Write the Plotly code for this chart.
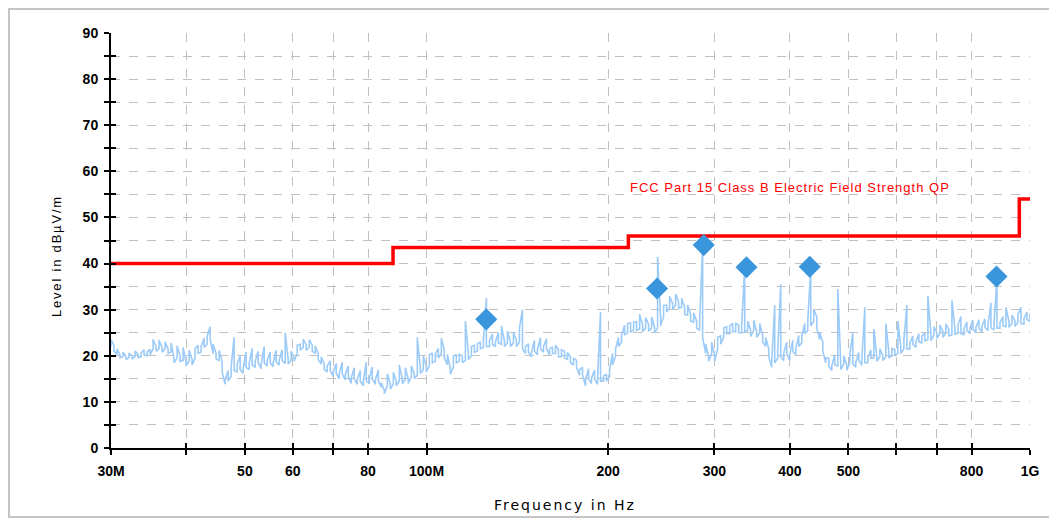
import numpy as np
import plotly.graph_objects as go

# ---------------- data ----------------
# receiver sweep: start / stop (log sweep, one display bin per trace value)
sweep_start_hz = 30e6
sweep_stop_hz = 1e9
trace_peak = [
    23.5, 22.3, 21.5, 20.2, 20.8, 19.8, 20.6, 20.0, 21.0, 20.3,
    20.6, 21.3, 20.8, 21.4, 23.6, 22.0, 23.4, 21.8, 23.0, 21.5,
    22.8, 19.3, 22.2, 20.0, 21.8, 18.6, 21.2, 19.2, 21.5, 22.3,
    22.0, 23.8, 24.2, 26.3, 22.5, 20.5, 21.2, 18.8, 14.8, 16.8,
    17.6, 24.0, 18.2, 20.0, 17.3, 20.8, 18.3, 21.6, 18.8, 21.0,
    18.2, 22.0, 19.0, 20.8, 18.5, 21.2, 19.0, 21.3, 25.0, 19.2,
    21.0, 19.5, 22.3, 22.5, 23.6, 22.4, 23.5, 22.3, 22.1, 20.5,
    19.8, 18.2, 17.8, 18.9, 16.5, 18.3, 16.2, 18.6, 15.9, 17.8,
    15.2, 17.4, 14.9, 16.8, 14.5, 18.6, 15.2, 17.6, 14.7, 16.9,
    14.2, 12.5, 16.1, 13.9, 16.4, 14.5, 18.0, 15.1, 17.4, 14.9,
    17.8, 16.0, 24.0, 17.4, 19.9, 17.8, 20.2, 20.6, 20.4, 21.6,
    23.8, 21.2, 20.3, 17.3, 19.9, 20.3, 20.4, 19.9, 27.5, 20.4,
    22.0, 22.3, 22.6, 23.0, 23.3, 32.5, 23.2, 24.7, 23.0, 25.0,
    26.5, 23.3, 25.3, 23.0, 25.1, 23.3, 26.0, 30.0, 22.0, 22.6,
    20.8, 23.3, 21.5, 23.9, 22.0, 23.7, 21.5, 21.9, 22.3, 21.3,
    21.3, 21.0, 20.7, 19.7, 19.5, 19.0, 17.0, 17.5, 14.6, 17.2,
    15.2, 16.9, 14.9, 29.5, 15.6, 16.0, 17.0, 20.5, 21.5, 24.0,
    24.5, 26.6, 27.0, 27.1, 27.3, 27.4, 29.0, 26.6, 28.3, 26.8,
    28.4, 26.2, 41.5, 28.2, 30.9, 31.0, 32.9, 31.3, 33.4, 31.7,
    32.5, 30.5, 31.0, 29.0, 29.3, 27.5, 27.5, 44.0, 22.5, 19.8,
    23.0, 20.0, 24.0, 24.3, 26.0, 26.3, 26.5, 27.0, 27.0, 26.7,
    26.8, 39.0, 27.5, 25.5, 27.7, 25.3, 27.0, 24.5, 24.0, 21.5,
    18.6, 31.0, 21.0, 35.5, 20.6, 23.0, 20.2, 23.4, 21.6, 24.4,
    24.3, 27.0, 27.5, 39.0, 30.0, 28.5, 25.0, 23.0, 19.6, 19.5,
    17.8, 20.2, 34.5, 18.1, 20.0, 17.9, 20.3, 25.0, 18.6, 20.7,
    19.1, 30.5, 19.6, 21.3, 25.8, 19.8, 21.5, 20.1, 27.0, 20.8,
    21.6, 21.3, 27.5, 21.8, 23.3, 31.0, 22.8, 24.3, 23.1, 24.8,
    24.3, 24.9, 33.0, 24.7, 26.3, 25.0, 26.7, 25.3, 26.9, 25.6,
    32.0, 26.0, 26.6, 28.5, 25.8, 27.3, 26.0, 27.7, 26.2, 27.8,
    26.4, 28.0, 26.6, 31.5, 26.9, 36.5, 27.2, 28.5, 30.5, 27.4,
    28.8, 27.6, 29.1, 30.5, 28.1, 29.5, 29.3,
]
trace_floor = [
    22.0, 21.0, 20.3, 19.6, 19.8, 19.2, 19.6, 19.3, 19.8, 19.6,
    19.8, 20.2, 20.0, 20.2, 21.5, 21.0, 21.5, 20.8, 21.5, 20.5,
    20.8, 18.5, 19.5, 18.8, 19.0, 17.8, 18.8, 18.0, 19.5, 20.5,
    20.8, 21.8, 22.5, 23.5, 20.5, 19.3, 19.0, 16.5, 13.8, 14.5,
    15.5, 16.8, 16.5, 17.0, 16.2, 17.5, 17.0, 18.0, 17.5, 18.5,
    17.2, 18.5, 17.8, 18.5, 17.6, 18.6, 18.0, 19.0, 18.3, 18.2,
    19.0, 18.8, 20.5, 21.2, 21.8, 21.2, 21.8, 21.0, 20.5, 19.2,
    18.2, 17.0, 16.5, 16.8, 15.5, 16.2, 15.0, 16.0, 14.8, 15.5,
    14.0, 15.0, 13.8, 14.5, 13.5, 14.5, 14.0, 15.0, 13.8, 14.5,
    13.2, 11.8, 13.5, 12.8, 13.8, 13.5, 14.5, 14.0, 14.8, 14.0,
    15.5, 15.0, 15.8, 16.2, 17.0, 16.5, 17.8, 18.5, 18.8, 19.5,
    20.5, 19.5, 18.0, 16.0, 17.5, 18.5, 18.8, 18.5, 19.0, 19.2,
    20.0, 20.8, 21.0, 21.5, 21.8, 22.0, 22.0, 22.5, 22.0, 22.8,
    22.5, 22.0, 22.8, 22.0, 22.8, 22.0, 23.0, 21.5, 20.5, 20.8,
    19.8, 21.0, 20.2, 21.5, 20.8, 21.5, 20.2, 20.5, 20.5, 19.8,
    19.8, 19.5, 19.2, 18.5, 18.0, 17.5, 15.8, 15.8, 13.5, 15.0,
    14.0, 15.0, 13.8, 14.5, 14.5, 14.5, 15.5, 18.0, 20.0, 22.0,
    23.0, 24.5, 25.0, 25.2, 25.5, 25.5, 25.8, 25.2, 26.0, 25.3,
    26.0, 25.0, 26.0, 26.5, 28.5, 29.5, 30.5, 30.0, 31.0, 30.3,
    30.5, 29.0, 28.8, 27.5, 27.3, 26.0, 25.5, 24.0, 20.5, 18.8,
    20.5, 18.8, 21.5, 22.5, 24.0, 24.8, 24.8, 25.3, 25.2, 25.0,
    25.0, 25.2, 25.5, 24.2, 25.5, 24.0, 25.0, 23.0, 22.0, 19.8,
    17.5, 18.5, 19.5, 19.8, 19.0, 20.5, 19.0, 21.0, 20.2, 22.0,
    22.8, 24.8, 25.5, 26.5, 27.5, 26.0, 23.5, 21.0, 18.5, 17.8,
    16.8, 18.0, 17.8, 17.0, 18.2, 16.8, 18.5, 18.3, 17.5, 19.0,
    18.0, 18.5, 18.5, 19.5, 19.5, 18.8, 19.8, 19.0, 19.8, 19.5,
    20.0, 20.0, 20.5, 20.5, 21.5, 21.5, 21.5, 22.5, 21.8, 23.0,
    22.8, 23.3, 23.5, 23.3, 24.5, 23.8, 24.8, 24.0, 25.0, 24.3,
    24.5, 24.6, 25.0, 24.8, 24.6, 25.5, 24.8, 25.8, 25.0, 26.0,
    25.2, 26.2, 25.5, 26.0, 25.7, 26.0, 26.0, 26.5, 26.3, 26.2,
    27.0, 26.4, 27.3, 27.0, 26.9, 27.8, 27.5,
]
trace_freq_hz = np.geomspace(sweep_start_hz, sweep_stop_hz, len(trace_peak))

# quasi-peak final measurement points
qp_freq_hz = [125.6e6, 241e6, 288e6, 339e6, 431.5e6, 880e6]
qp_level = [27.9, 34.6, 44.0, 39.2, 39.3, 37.2]

# FCC Part 15 Class B limit (step line)
limit_freq_hz = [30e6, 88e6, 216e6, 960e6, 1000e6]
limit_level = [40.0, 43.5, 46.0, 54.0, 54.0]
limit_name = "FCC Part 15 Class B Electric Field Strength QP"

# axis ticks
x_tick_vals = [30e6, 40e6, 50e6, 60e6, 70e6, 80e6, 100e6, 200e6, 300e6,
               400e6, 500e6, 600e6, 700e6, 800e6, 1e9]
x_tick_text = ["30M", "", "50", "60", "", "80", "100M", "200", "300",
               "400", "500", "", "", "800", "1G"]
y_tick_vals = [0, 10, 20, 30, 40, 50, 60, 70, 80, 90]

# ---------------- figure ----------------
FONT = "Liberation Sans, Arial, sans-serif"
GRID = "#c0c0c0"
xr = [np.log10(sweep_start_hz), np.log10(sweep_stop_hz)]
W, H = 1049, 513          # page body has an 8px margin
ML, MR, MT, MB = 103, 27, 25, 73
PW, PH = W - ML - MR, H - MT - MB


def px_x(px):   # page pixel -> paper x
    return (px - 8 - ML) / PW


def px_y(py):   # page pixel -> paper y
    return (H - MB - (py - 8)) / PH


# each display bin is drawn as a vertical stroke between its min and max,
# alternating direction so neighbouring bins join top-to-top / bottom-to-bottom
band_x, band_y = [], []
for k, (f, lo, hi) in enumerate(zip(trace_freq_hz, trace_floor, trace_peak)):
    band_x += [f, f]
    band_y += [lo, hi] if k % 2 == 0 else [hi, lo]

fig = go.Figure()
fig.add_trace(go.Scatter(x=band_x, y=band_y, mode="lines",
                         line=dict(color="#9ccbf8", width=1.6),
                         showlegend=False, hoverinfo="skip"))
fig.add_trace(go.Scatter(x=limit_freq_hz, y=limit_level, mode="lines",
                         line=dict(color="#ff0000", width=3.5, shape="hv"),
                         showlegend=False))
fig.add_trace(go.Scatter(x=qp_freq_hz, y=qp_level, mode="markers",
                         marker=dict(symbol="diamond", size=17, color="#3a96dc",
                                     line=dict(width=0)),
                         showlegend=False))
# helper invisible traces for the crossing-tick overlay axes
fig.add_trace(go.Scatter(x=[sweep_start_hz], y=[0], xaxis="x2", yaxis="y",
                         mode="markers", marker=dict(opacity=0), showlegend=False,
                         hoverinfo="skip"))
fig.add_trace(go.Scatter(x=[sweep_start_hz], y=[0], xaxis="x", yaxis="y2",
                         mode="markers", marker=dict(opacity=0), showlegend=False,
                         hoverinfo="skip"))

tick_font = dict(size=14, family=FONT, weight="bold")
fig.update_layout(
    width=W, height=H,
    margin=dict(l=ML, r=MR, t=MT, b=MB),
    paper_bgcolor="white", plot_bgcolor="white",
    font=dict(family=FONT, color="black"),
    xaxis=dict(type="log", range=xr, tickmode="array", tickvals=x_tick_vals,
               ticktext=x_tick_text, ticks="outside", ticklen=5, tickwidth=1.5,
               tickcolor="black", showline=True, linecolor="black", linewidth=2,
               showgrid=True, gridcolor=GRID, griddash="dash", gridwidth=1,
               zeroline=False, tickfont=tick_font, ticklabelstandoff=4),
    xaxis2=dict(type="log", range=xr, overlaying="x", anchor="y",
                tickmode="array", tickvals=x_tick_vals, ticks="inside", ticklen=5,
                tickwidth=1.5, tickcolor="black", showticklabels=False,
                showgrid=False, showline=False, zeroline=False),
    yaxis=dict(range=[0, 90], tickmode="array", tickvals=y_tick_vals,
               ticks="outside", ticklen=5, tickwidth=1.5, tickcolor="black",
               showline=True, linecolor="black", linewidth=2,
               showgrid=True, gridcolor=GRID, griddash="dash", gridwidth=1,
               zeroline=False, tickfont=tick_font, ticklabelstandoff=3,
               minor=dict(dtick=5, tick0=0, ticks="outside", ticklen=5,
                          tickwidth=1.5, tickcolor="black", showgrid=True,
                          gridcolor=GRID, griddash="dash", gridwidth=1)),
    yaxis2=dict(range=[0, 90], overlaying="y", anchor="x", side="left",
                tickmode="array", tickvals=y_tick_vals, ticks="inside",
                ticklen=5, tickwidth=1.5, tickcolor="black",
                showticklabels=False, showgrid=False, showline=False,
                zeroline=False,
                minor=dict(dtick=5, tick0=0, ticks="inside", ticklen=5,
                           tickwidth=1.5, tickcolor="black", showgrid=False)),
)

# limit line name
fig.add_annotation(x=np.log10(216e6), y=56.4, xref="x", yref="y",
                   text='<span style="letter-spacing:1px">' + limit_name + "</span>",
                   showarrow=False, xanchor="left", yanchor="middle",
                   font=dict(color="#ff0000", size=13, family=FONT))
# axis titles
fig.add_annotation(x=px_x(565), y=px_y(505), xref="paper", yref="paper",
                   text='<span style="letter-spacing:2px">Frequency in Hz</span>',
                   showarrow=False, xanchor="center", yanchor="middle",
                   font=dict(size=14, family="DejaVu Sans, sans-serif"))
fig.add_annotation(x=px_x(57), y=px_y(256), xref="paper", yref="paper",
                   text='<span style="letter-spacing:1.8px">Level in dBµV/m</span>',
                   showarrow=False, textangle=-90, xanchor="center",
                   yanchor="middle", font=dict(size=13, family=FONT))
# outer frame
fig.add_shape(type="rect", xref="paper", yref="paper",
              x0=px_x(9), x1=px_x(1052), y0=px_y(517), y1=px_y(9),
              line=dict(color="#c4c4c4", width=2), fillcolor="rgba(0,0,0,0)",
              layer="below")

fig.write_html("out.html")
